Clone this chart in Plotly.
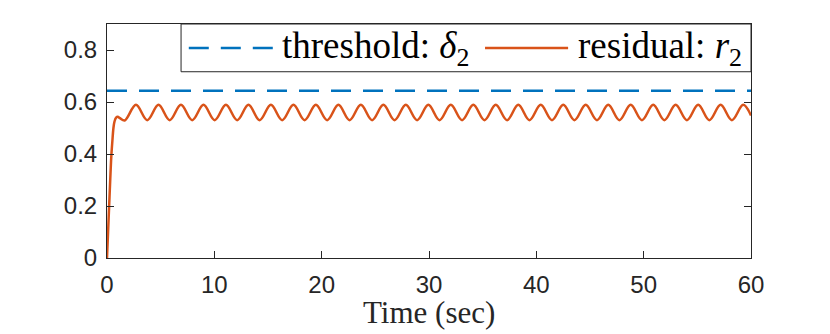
import plotly.graph_objects as go

# threshold delta_2 (constant)
thr_t = [0, 60]
thr_v = [0.643, 0.643]

# residual r_2: start-up transient, then alternating peaks / troughs
resid_t = [0, 0.1, 0.2, 0.3, 0.4, 0.5, 0.6, 0.7, 0.85, 1.0, 1.2, 1.65,
           2.70, 3.75, 4.80, 5.84, 6.89, 7.94, 8.99, 10.03, 11.08, 12.13,
           13.18, 14.22, 15.27, 16.32, 17.37, 18.41, 19.46, 20.51, 21.56,
           22.60, 23.65, 24.70, 25.75, 26.79, 27.84, 28.89, 29.94, 30.98,
           32.03, 33.08, 34.13, 35.17, 36.22, 37.27, 38.32, 39.36, 40.41,
           41.46, 42.51, 43.55, 44.60, 45.65, 46.70, 47.74, 48.79, 49.84,
           50.89, 51.93, 52.98, 54.03, 55.08, 56.12, 57.17, 58.22, 59.27, 60]
resid_v = [0.0, 0.10, 0.20, 0.30, 0.39, 0.45, 0.50, 0.525, 0.540, 0.543, 0.538, 0.529,
           0.589, 0.530, 0.589, 0.530, 0.589, 0.530, 0.589, 0.530, 0.589, 0.530,
           0.589, 0.530, 0.589, 0.530, 0.589, 0.530, 0.589, 0.530, 0.589,
           0.530, 0.589, 0.530, 0.589, 0.530, 0.589, 0.530, 0.589, 0.530,
           0.589, 0.530, 0.589, 0.530, 0.589, 0.530, 0.589, 0.530, 0.589,
           0.530, 0.589, 0.530, 0.589, 0.530, 0.589, 0.530, 0.589, 0.530,
           0.589, 0.530, 0.589, 0.530, 0.589, 0.530, 0.589, 0.530, 0.589, 0.548]

x_ticks = [0, 10, 20, 30, 40, 50, 60]
y_ticks = [0, 0.2, 0.4, 0.6, 0.8]

BLUE = '#0072BD'
ORANGE = '#D95319'
AX = '#262626'
SERIF = 'Liberation Serif'

fig = go.Figure()

fig.add_trace(go.Scatter(
    x=thr_t, y=thr_v, mode='lines',
    line=dict(color=BLUE, width=2.5, dash='20px,12px'),
    hoverinfo='skip',
))
fig.add_trace(go.Scatter(
    x=resid_t, y=resid_v, mode='lines',
    line=dict(color=ORANGE, width=2.5, shape='spline', smoothing=1.0),
))

# hand-made legend box (MATLAB style, long sample lines)
fig.add_shape(type='rect', xref='paper', yref='paper',
              x0=0.115, x1=1.0, y0=0.796, y1=1.0,
              line=dict(color=AX, width=1), fillcolor='white', layer='above')
fig.add_shape(type='line', xref='paper', yref='paper',
              x0=0.127, x1=0.258, y0=0.897, y1=0.897,
              line=dict(color=BLUE, width=2.5, dash='20px,12px'), layer='above')
fig.add_shape(type='line', xref='paper', yref='paper',
              x0=0.587, x1=0.716, y0=0.897, y1=0.897,
              line=dict(color=ORANGE, width=2.5), layer='above')
fig.add_annotation(xref='paper', yref='paper', x=0.268, y=0.897,
                   xanchor='left', yanchor='middle', showarrow=False,
                   text='threshold: <i>δ</i><sub>2</sub>',
                   font=dict(family=SERIF, size=37, color='black'))
fig.add_annotation(xref='paper', yref='paper', x=0.728, y=0.897,
                   xanchor='left', yanchor='middle', showarrow=False,
                   text='residual: <i>r</i><sub>2</sub>',
                   font=dict(family=SERIF, size=37, color='black'))

# x-axis label placed as an annotation so it can sit closer to the tick labels
fig.add_annotation(xref='paper', yref='paper', x=0.5, y=-0.232,
                   xanchor='center', yanchor='middle', showarrow=False,
                   text='Time (sec)',
                   font=dict(family=SERIF, size=31, color=AX))

axis_common = dict(
    showline=True, linecolor=AX, linewidth=1, mirror='ticks',
    ticks='inside', ticklen=7, tickwidth=1, tickcolor=AX,
    showgrid=False, zeroline=False,
    tickfont=dict(family='Liberation Sans', size=24, color=AX),
)

# the page body adds an 8px offset, so the figure is 8px smaller on each axis
fig.update_layout(
    width=822, height=326,
    margin=dict(l=99, r=79, t=16, b=76),
    paper_bgcolor='white', plot_bgcolor='white',
    showlegend=False,
    xaxis=dict(range=[0, 60], tickvals=x_ticks, ticklabelstandoff=5,
               **axis_common),
    yaxis=dict(range=[0, 0.9], tickvals=y_ticks,
               ticktext=[f'{v:g}' for v in y_ticks], ticklabelstandoff=4,
               **axis_common),
)

fig.write_html('out.html')
